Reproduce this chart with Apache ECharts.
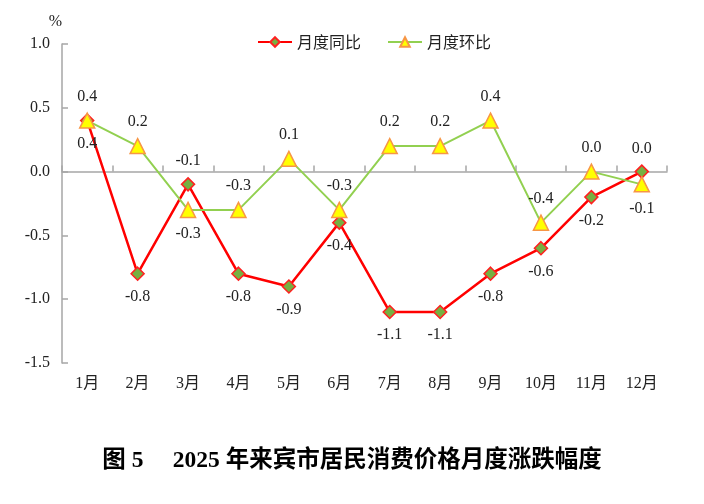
<!DOCTYPE html>
<html><head><meta charset="utf-8">
<script src="https://cdn.jsdelivr.net/npm/echarts@6/dist/echarts.min.js"></script>
<style>html,body{margin:0;padding:0;background:#fff}#c{width:704px;height:504px}</style>
</head><body><div id="c"></div>
<script>
var categories = ['1月','2月','3月','4月','5月','6月','7月','8月','9月','10月','11月','12月'];
var yoy = [0.4, -0.8, -0.1, -0.8, -0.9, -0.4, -1.1, -1.1, -0.8, -0.6, -0.2, 0.0];
var mom = [0.4, 0.2, -0.3, -0.3, 0.1, -0.3, 0.2, 0.2, 0.4, -0.4, 0.0, -0.1];
var seriesNames = ['月度同比', '月度环比'];
var titleText = '图 5　 2025 年来宾市居民消费价格月度涨跌幅度';

var serif = '"Liberation Serif","Times New Roman","Noto Sans CJK SC",serif';
var fmt = function(p){ return Number(p.value).toFixed(1); };
var yoyData = yoy.map(function(v,i){ return {value:v, label:{position: v > mom[i] ? 'top' : 'bottom'}}; });
var momData = mom.map(function(v,i){ return {value:v, label:{position: v >= yoy[i] ? 'top' : 'bottom'}}; });

var chart = echarts.init(document.getElementById('c'));
chart.setOption({
  animation:false,
  title:{text:titleText, left:'center', top:444, textStyle:{fontFamily:serif, fontSize:23.5, fontWeight:'bold', color:'#000'}},
  legend:{top:29, left:252, itemGap:26, itemWidth:34, itemHeight:12,
    textStyle:{fontFamily:'"Noto Sans CJK SC",sans-serif', fontSize:16, color:'#222'},
    data:seriesNames},
  grid:{left:62, right:37, top:44, bottom:141},
  xAxis:[{
    type:'category', data:categories, boundaryGap:true, position:'bottom',
    axisLine:{show:false, onZero:false}, axisTick:{show:false},
    axisLabel:{fontFamily:serif, fontSize:16, color:'#222', margin:13}
  },{
    type:'category', data:categories, boundaryGap:true, position:'bottom',
    axisLine:{show:true, onZero:true, lineStyle:{color:'#a6a6a6', width:1.5}},
    axisTick:{show:true, inside:true, length:6, lineStyle:{color:'#a6a6a6', width:1.5}},
    axisLabel:{show:false}
  }],
  yAxis:{
    type:'value', min:-1.5, max:1.0, interval:0.5, name:'%',
    nameGap:14, nameTextStyle:{fontFamily:serif, fontSize:16, color:'#222', align:'right', padding:[0,0,0,0]},
    axisLine:{show:true, lineStyle:{color:'#a6a6a6', width:1.5}},
    axisTick:{show:true, inside:true, length:6, lineStyle:{color:'#a6a6a6', width:1.5}},
    splitLine:{show:false},
    axisLabel:{fontFamily:serif, fontSize:16, color:'#222', margin:12, formatter:function(v){return v.toFixed(1);}}
  },
  series:[{
    name:seriesNames[0], type:'line', data:yoyData, xAxisIndex:0,
    symbol:'diamond', symbolSize:13,
    lineStyle:{color:'#ff0000', width:2.5},
    itemStyle:{color:'#76b041', borderColor:'#ff2020', borderWidth:1.5},
    label:{show:true, formatter:fmt, fontFamily:serif, fontSize:16, color:'#222', distance:8},
    z:3
  },{
    name:seriesNames[1], type:'line', data:momData, xAxisIndex:0,
    symbol:'triangle', symbolSize:15,
    lineStyle:{color:'#92d050', width:2},
    itemStyle:{color:'#ffff00', borderColor:'#f79646', borderWidth:1.5},
    label:{show:true, formatter:fmt, fontFamily:serif, fontSize:16, color:'#222', distance:8},
    z:4
  }]
});
</script></body></html>
